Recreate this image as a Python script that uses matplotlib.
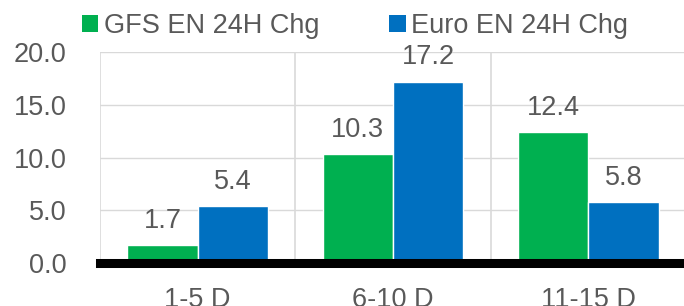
import numpy as np
import matplotlib.pyplot as plt
from matplotlib.patches import Patch

plt.rcParams['font.family'] = ['Liberation Sans', 'DejaVu Sans']

kategorije = ['1-5 D', '6-10 D', '11-15 D']
gfs = [1.7, 10.3, 12.4]
euro = [5.4, 17.2, 5.8]
imena = ['GFS EN 24H Chg', 'Euro EN 24H Chg']
barve = ['#00B050', '#0070C0']
siva = '#595959'
fs = 19.5

fig = plt.figure(figsize=(6.84, 3.06), dpi=100)
ax = fig.add_axes([100/684, 43/306, 586/684, 211/306])

x = np.arange(len(kategorije))
w = 0.36
b1 = ax.bar(x - w/2, gfs, w, color=barve[0], edgecolor='white', linewidth=1, zorder=3)
b2 = ax.bar(x + w/2, euro, w, color=barve[1], edgecolor='white', linewidth=1, zorder=3)

for bars, vals in [(b1, gfs), (b2, euro)]:
    for r, v in zip(bars, vals):
        ax.annotate('%.1f' % v, (r.get_x() + r.get_width()/2, v), xytext=(0, 8),
                    textcoords='offset points', ha='center', va='bottom',
                    fontsize=fs, color=siva)

ax.set_xlim(-0.5, 2.5)
ax.set_ylim(0, 20)
ax.set_yticks([0, 5, 10, 15, 20])
ax.set_yticklabels(['%.1f' % t for t in [0, 5, 10, 15, 20]])
ax.set_xticks(x)
ax.set_xticklabels(kategorije)
ax.tick_params(axis='both', length=0, labelsize=fs, labelcolor=siva)
ax.tick_params(axis='x', pad=17.5)
ax.tick_params(axis='y', pad=24)

# mreza
for yy in [5, 10, 15, 20]:
    ax.axhline(yy, color='#D9D9D9', lw=1, zorder=1)
for xx in [-0.5, 0.5, 1.5]:
    ax.axvline(xx, color='#D9D9D9', lw=1.2, zorder=1)
ax.axhline(0, color='black', lw=6.5, zorder=4, clip_on=False)

for s in ax.spines.values():
    s.set_visible(False)

handles = [Patch(facecolor=c, edgecolor='none') for c in barve]
fig.legend(handles, imena, loc='center', bbox_to_anchor=(355/684, 1 - 26/306),
           ncol=2, frameon=False, fontsize=fs, labelcolor=siva,
           handlelength=0.6, handleheight=0.6, handletextpad=0.2,
           columnspacing=2.6, borderpad=0)

plt.savefig('out.png', dpi=100)
